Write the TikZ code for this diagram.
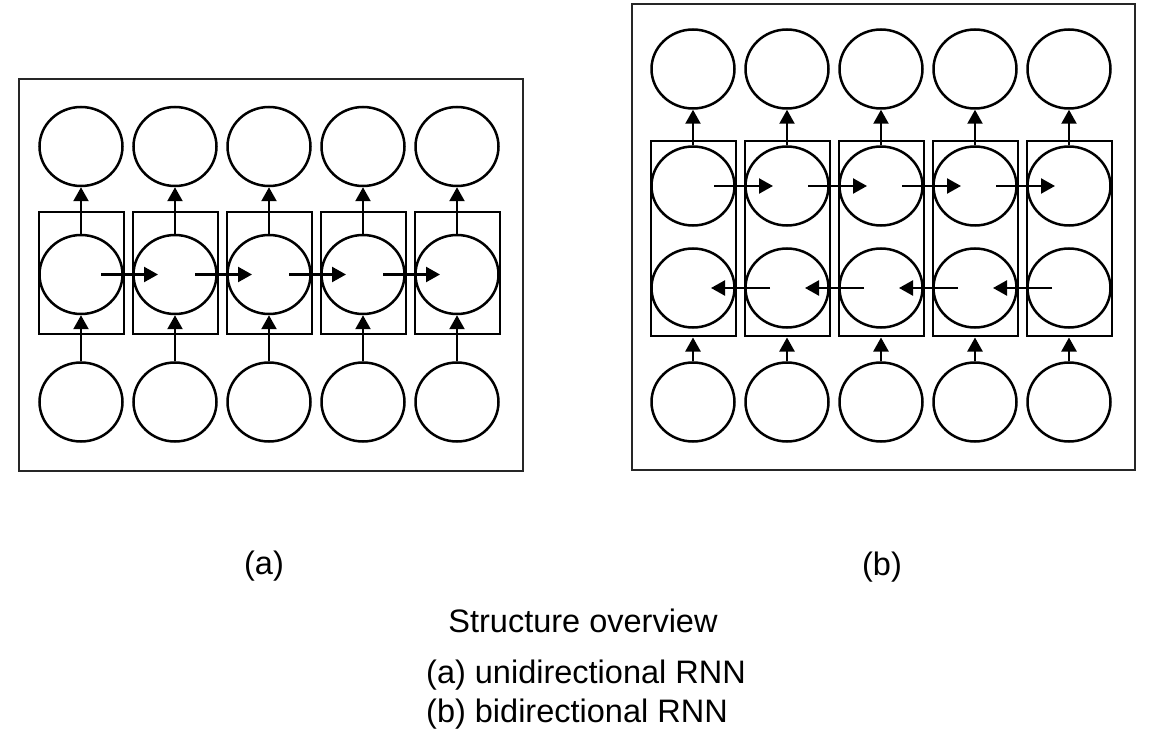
\documentclass[tikz,border=0pt]{standalone}
\usepackage{fontspec}
\setmainfont{Liberation Sans}
\usetikzlibrary{shapes.geometric,arrows.meta,calc}

\begin{document}
\begin{tikzpicture}[x=1pt,y=-1pt,
  unit/.style={ellipse,draw,line width=2.5pt,minimum width=83pt,minimum height=79pt,inner sep=0pt},
  cell/.style={rectangle,draw,line width=2pt,minimum width=85pt,inner sep=0pt},
  panel/.style={draw,line width=2.2pt,black!85},
  flow/.style={line width=2.3pt,-{Triangle[length=14pt,width=15pt]}},
  caption/.style={font=\fontsize{32.5}{39}\selectfont,inner sep=0pt,anchor=base}]
\useasboundingbox (0,0) rectangle (1163,754);

% (a) unidirectional RNN
\draw[panel] (19,79) rectangle (523,471);
\foreach \i in {1,...,5}{
  \pgfmathsetmacro\x{81+94*(\i-1)}
  \node[cell,minimum height=122pt] (la\i) at (\x,273) {};
  \node[unit] (lo\i) at (\x,146.5) {};
  \node[unit] (lh\i) at (\x,274.5) {};
  \node[unit] (lx\i) at (\x,402) {};
  \draw[flow] (lh\i.north) -- (lo\i.south);
  \draw[flow] (lx\i.north) -- (lh\i.south);
}
\foreach \i [evaluate=\i as \j using int(\i+1)] in {1,...,4}
  \draw[flow] ($(lh\i.center)+(20,0)$) -- ($(lh\j.center)+(-17,0)$);

% (b) bidirectional RNN
\draw[panel] (632,4) rectangle (1135,470);
\foreach \i in {1,...,5}{
  \pgfmathsetmacro\x{693+94*(\i-1)}
  \node[cell,minimum height=195pt] (rc\i) at (\x,239) {};
  \node[unit] (ro\i) at (\x,69) {};
  \node[unit] (rf\i) at (\x,186) {};
  \node[unit] (rb\i) at (\x,288) {};
  \node[unit] (rx\i) at (\x,402) {};
  \draw[flow] (rf\i.north) -- (ro\i.south);
  \draw[flow] (rx\i.north) -- (rc\i.south);
}
\foreach \i [evaluate=\i as \j using int(\i+1)] in {1,...,4}{
  \draw[flow] ($(rf\i.center)+(21,0)$) -- ($(rf\j.center)+(-14,0)$);
  \draw[flow] ($(rb\j.center)+(-17,0)$) -- ($(rb\i.center)+(18,0)$);
}

% captions
\node[caption] (capa) at (264,574.5) {(a)};
\node[caption] (capb) at (882,575) {(b)};
\node[caption] (title) at (583,632.5) {Structure overview};
\node[caption,anchor=base west] (linea) at (426,683) {(a) unidirectional RNN};
\node[caption,anchor=base west] (lineb) at (426,722.5) {(b) bidirectional RNN};
\end{tikzpicture}
\end{document}
